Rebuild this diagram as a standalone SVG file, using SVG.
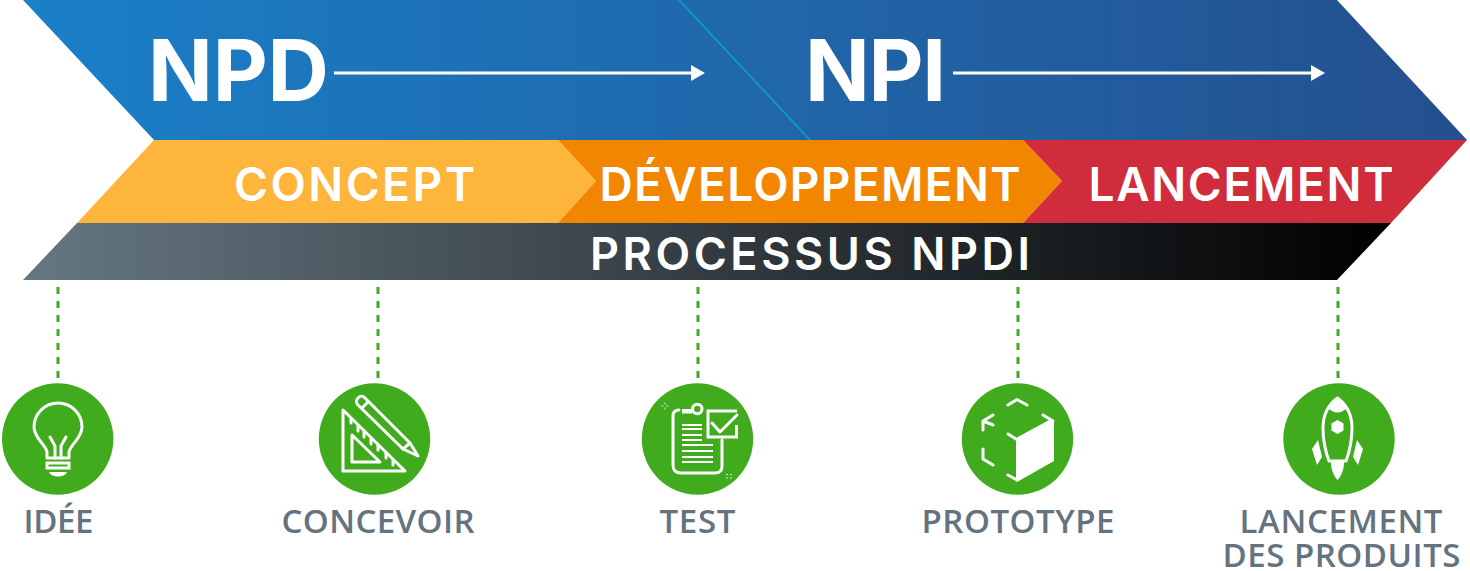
<svg xmlns="http://www.w3.org/2000/svg" width="1470" height="571" viewBox="0 0 1470 571">
<style>
.h{font-family:"Inter","Liberation Sans",sans-serif;fill:#fff}
.big{font-size:85px;font-weight:700}
.mid{font-size:46px;font-weight:600;text-anchor:middle}
.lab{font-family:"Open Sans","Liberation Sans",sans-serif;font-size:33px;font-weight:600;fill:#637380;text-anchor:middle}
.c{fill:#41ab1e}
.w{fill:none;stroke:#fff;stroke-width:3;stroke-linecap:round;stroke-linejoin:round}
.t{fill:none;stroke:#fff;stroke-width:3}
.f{fill:#fff}
.d{fill:none;stroke:#41ab1e;stroke-width:3;stroke-dasharray:7 7}
.a{fill:none;stroke:#fff;stroke-width:3}
</style>
<defs>
<linearGradient id="g1" x1="0" x2="1"><stop offset="0" stop-color="#1a80c8"/><stop offset="1" stop-color="#254f8e"/></linearGradient>
<linearGradient id="g2" x1="0" x2="1"><stop offset="0" stop-color="#667782"/><stop offset="1" stop-color="#000"/></linearGradient>
<marker id="ah" markerUnits="userSpaceOnUse" markerWidth="14" markerHeight="16" refX="0" refY="8" orient="auto"><path d="M0 0L14 8L0 16Z" fill="#fff"/></marker>
</defs>
<g id="npd-npi">
<polygon points="23,0 1337,0 1467,140 154,140" fill="url(#g1)"/>
<text class="h big" x="148" y="101" textLength="181">NPD</text>
<text class="h big" x="805" y="101" textLength="141">NPI</text>
</g>
<g id="concept"><polygon points="154,140 558,140 596,181 558,223 77,223" fill="#fdb53c"/><text class="h mid" x="354.500" y="201" textLength="241">CONCEPT</text></g>
<g id="developpement"><polygon points="558,140 1023,140 1062,181 1023,223 558,223 596,181" fill="#f38600"/><text class="h mid" x="810" y="201" textLength="421">DÉVELOPPEMENT</text></g>
<g id="lancement"><polygon points="1023,140 1467,140 1391,223 1023,223 1062,181" fill="#d12c3b"/><text class="h mid" x="1241" y="201" textLength="305">LANCEMENT</text></g>
<g id="processus"><polygon points="77,223 1391,223 1337,280 23,280" fill="url(#g2)"/><text class="h mid" x="810" y="269.500" textLength="440" style="font-size:45px">PROCESSUS NPDI</text></g>
<g id="connectors">
<path d="M679 0L810 140" fill="none" stroke="#0aa5c5" stroke-width="1.500"/>
<path class="a" d="M334 73H691" marker-end="url(#ah)"/>
<path class="a" d="M953 73H1311" marker-end="url(#ah)"/>
<path class="d" d="M58 287V378"/>
<path class="d" d="M378 287V378"/>
<path class="d" d="M698 287V378"/>
<path class="d" d="M1018 287V378"/>
<path class="d" d="M1338 287V378"/>
</g>
<g id="idee">
<circle class="c" cx="57.700" cy="439" r="55.700"/>
<path class="w" d="M47 458V452C46 445 34 438 34 427A24 24 0 0 1 82 427C82 438 70 445 69 452V458Z"/>
<path class="w" d="M50 437L55 446V458M66 437L61 446V458" stroke-width="2.500"/>
<path class="t" d="M47 463H69V468H47Z"/>
<path class="f" d="M49 472H67C65 478 51 478 49 472Z"/>
<text class="lab" x="58.500" y="533" textLength="70">IDÉE</text>
</g>
<g id="concevoir">
<circle class="c" cx="374.500" cy="439" r="55.700"/>
<path class="w" d="M343 410L405 471H343Z"/>
<path class="w" d="M352 435L380 462H352Z"/>
<path class="w" d="M351 419V423M358 426V431M364 432V437M371 439V444M378 445V450M386 453V458M393 460V465" stroke-width="2.500"/>
<path class="w" d="M358 398C361 395 363 396 365 398L410 443L418 456L403 449L358 405C356 403 356 400 358 398Z"/>
<path class="w" d="M362 408L368 402M403 449L410 443" stroke-width="2.500"/>
<text class="lab" x="378" y="533" textLength="193">CONCEVOIR</text>
</g>
<g id="test">
<circle class="c" cx="697.500" cy="439" r="55.700"/>
<path class="w" d="M679 410Q673 410 673 416V465Q673 473 681 473H715Q722 473 722 466V440"/>
<path class="f" d="M682 409H692V413.500H682Z"/>
<circle cx="697.300" cy="409" r="4.700" fill="#41ab1e" stroke="#fff" stroke-width="3"/>
<path class="t" d="M737 411H708V437H736.500V425"/>
<path class="w" d="M712 423L720 432L737 415" stroke-width="4.500" stroke-linecap="butt"/>
<path d="M682 425H702M682 429H702M682 435H702M682 440H702M682 445H713M682 451H713M682 457H713M682 462H713" fill="none" stroke="#fff" stroke-width="2"/>
<path d="M665 402.500V404.500M665 407.500V409.500M661.500 406H663.500M666.500 406H668.500M726 474.500H728M730 474.500H732M726 478H728M730 478H732" fill="none" stroke="#d5ebcb" stroke-width="1"/>
<text class="lab" x="697.500" y="533" textLength="76">TEST</text>
</g>
<g id="prototype">
<circle class="c" cx="1017.500" cy="439" r="55.700"/>
<path class="w" d="M1008 405L1017 399.500L1027 405M993 415L983 421L993 425M983 421V430M983 449V459L993 465M1008 475L1017 480M1008 434L1016 439M1043 415L1053 421" stroke-width="4"/>
<path class="f" d="M1016 438L1051 419L1054 421V461L1017 482L1016 481Z"/>
<text class="lab" x="1018" y="533" textLength="193">PROTOTYPE</text>
</g>
<g id="lancement-produits">
<circle class="c" cx="1339" cy="439" r="55.700"/>
<path class="w" d="M1337.500 398C1328 405 1323 416 1323 428C1323 442 1326 453 1329 461H1346C1349 453 1352 442 1352 428C1352 416 1347 405 1337.500 398Z" stroke-width="2.500"/>
<path class="f" d="M1337.500 397C1333 400 1331 404 1329 409Q1337.500 416 1346 409C1344 404 1342 400 1337.500 397Z"/>
<path class="f" d="M1337.500 420L1343.500 423.500V430.500L1337.500 434L1331.500 430.500V423.500Z"/>
<path class="f" d="M1318 440L1312 449L1317 465L1322 457ZM1357 440L1363 449L1358 465L1353 457Z"/>
<path class="f" d="M1331 462H1344C1344 470 1341 476 1337.500 480C1334 476 1331 470 1331 462Z"/>
<text class="lab" x="1341" y="533" textLength="203">LANCEMENT</text>
<text class="lab" x="1341.500" y="567" textLength="238">DES PRODUITS</text>
</g>
</svg>
